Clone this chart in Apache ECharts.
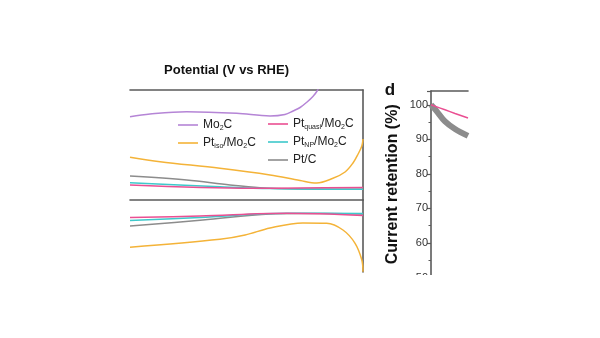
<!DOCTYPE html>
<html>
<head>
<meta charset="utf-8">
<script src="https://cdn.jsdelivr.net/npm/echarts@6/dist/echarts.min.js"></script>
<style>
  html, body { margin: 0; padding: 0; background: #fff; }
  #chart { width: 600px; height: 338px; }
</style>
</head>
<body>
<div id="chart"></div>
<script>
// Polarisation sweeps (upper: anodic branch, lower: cathodic branch), x = normalised potential
const mo2cUpper   = [[0,0.833],[0.086,0.86],[0.243,0.883],[0.458,0.867],[0.601,0.84],[0.665,0.855],[0.70,0.89],[0.73,0.925],[0.76,0.98],[0.785,1.035],[0.803,1.09],[0.815,1.15]];
const ptIsoUpper  = [[0,0.427],[0.129,0.383],[0.386,0.317],[0.601,0.25],[0.73,0.195],[0.801,0.17],[0.871,0.217],[0.923,0.28],[0.957,0.37],[0.979,0.46],[0.995,0.54],[1,0.61]];
const ptCUpper    = [[0,0.24],[0.243,0.20],[0.429,0.15],[0.558,0.123],[0.73,0.11],[1,0.107]];
const ptNpUpper   = [[0,0.173],[0.386,0.133],[0.601,0.115],[1,0.107]];
const ptQuasiUpper= [[0,0.15],[0.528,0.117],[0.73,0.12],[1,0.125]];

const ptQuasiLower= [[0,-0.175],[0.30,-0.16],[0.673,-0.133],[1,-0.155]];
const ptNpLower   = [[0,-0.205],[0.30,-0.175],[0.673,-0.133],[1,-0.135]];
const ptCLower    = [[0,-0.26],[0.313,-0.20],[0.601,-0.14],[0.73,-0.135],[1,-0.14]];
const ptIsoLower  = [[0,-0.473],[0.386,-0.393],[0.494,-0.35],[0.601,-0.28],[0.742,-0.23],[0.844,-0.233],[0.914,-0.30],[0.966,-0.433],[0.995,-0.60],[1,-0.717]];

// Chronoamperometric current retention (%)
const retentionQuasi = [[0,100],[0.378,98.55],[0.649,97.5],[1,96.2]];
const retentionPtC   = [[0,100],[0.135,98.4],[0.378,95.2],[0.649,93.0],[1,91.0]];
const retentionTicks = [50, 60, 70, 80, 90, 100];

const colors = {
  'Mo2C': '#b585d6',
  'Pt_iso/Mo2C': '#f4b338',
  'Pt_quasi/Mo2C': '#ea4f92',
  'Pt_NP/Mo2C': '#3ec9cb',
  'Pt/C': '#8c8c8c'
};
const legendRich = {
  'Mo2C': '{a|Mo}{s|2}{a|C}',
  'Pt_iso/Mo2C': '{a|Pt}{s|iso}{a|/Mo}{s|2}{a|C}',
  'Pt_quasi/Mo2C': '{a|Pt}{s|quasi}{a|/Mo}{s|2}{a|C}',
  'Pt_NP/Mo2C': '{a|Pt}{s|NP}{a|/Mo}{s|2}{a|C}',
  'Pt/C': '{a|Pt/C}'
};

const FONT = '"Liberation Sans", Arial, sans-serif';
const frame = { show: true, onZero: false, lineStyle: { color: '#5a5a5a', width: 1.6 } };

function curve(name, data, idx, width) {
  return {
    name: name, type: 'line', data: data, xAxisIndex: idx, yAxisIndex: idx,
    symbol: 'none', smooth: 0.35, clip: true,
    lineStyle: { color: colors[name], width: width || 1.5 },
    itemStyle: { color: colors[name] }
  };
}

const legendBase = {
  orient: 'vertical', padding: 0, itemWidth: 20, itemHeight: 1.6, itemGap: 5,
  icon: 'rect', selectedMode: false,
  formatter: function (n) { return legendRich[n]; },
  textStyle: {
    rich: {
      a: { fontSize: 12, lineHeight: 14, color: '#222', fontFamily: FONT },
      s: { fontSize: 7, lineHeight: 8, verticalAlign: 'bottom', color: '#222', fontFamily: FONT }
    }
  }
};

const chart = echarts.init(document.getElementById('chart'), null, { renderer: 'canvas' });
chart.setOption({
  animation: false,
  backgroundColor: '#fff',
  textStyle: { fontFamily: FONT },
  grid: [
    { left: 130, width: 233, top: 90, height: 110 },
    { left: 130, width: 233, top: 200, height: 72 },
    { left: 431, width: 37, top: 91, height: 186.5 }
  ],
  xAxis: [
    { gridIndex: 0, type: 'value', min: 0, max: 1, position: 'top', axisLine: frame,
      axisTick: { show: false }, axisLabel: { show: false }, splitLine: { show: false } },
    { gridIndex: 1, type: 'value', min: 0, max: 1, position: 'top', axisLine: frame,
      axisTick: { show: false }, axisLabel: { show: false }, splitLine: { show: false } },
    { gridIndex: 2, type: 'value', min: 0, max: 1, position: 'top', axisLine: frame,
      axisTick: { show: false }, axisLabel: { show: false }, splitLine: { show: false } }
  ],
  yAxis: [
    { gridIndex: 0, type: 'value', min: 0, max: 1.1, position: 'right', axisLine: frame,
      axisTick: { show: false }, axisLabel: { show: false }, splitLine: { show: false } },
    { gridIndex: 1, type: 'value', min: -0.72, max: 0, position: 'right', axisLine: frame,
      axisTick: { show: false }, axisLabel: { show: false }, splitLine: { show: false } },
    { gridIndex: 2, type: 'value', min: 50, max: 104, interval: 10, position: 'left',
      axisLine: frame,
      axisTick: { show: true, inside: false, length: 4, lineStyle: { color: '#5a5a5a', width: 1.2 } },
      minorTick: { show: true, splitNumber: 2, length: 2.5, lineStyle: { color: '#5a5a5a', width: 1 } },
      axisLabel: {
        margin: 3, fontSize: 11, color: '#333',
        formatter: function (v) { return retentionTicks.indexOf(v) >= 0 ? String(v) : ''; }
      },
      splitLine: { show: false },
      name: 'Current retention (%)', nameLocation: 'middle', nameGap: 30,
      nameTextStyle: { fontSize: 16, fontWeight: 'bold', color: '#111' }
    }
  ],
  legend: [
    Object.assign({}, legendBase, { left: 178, top: 119, data: ['Mo2C', 'Pt_iso/Mo2C'] }),
    Object.assign({}, legendBase, { left: 268, top: 118, data: ['Pt_quasi/Mo2C', 'Pt_NP/Mo2C', 'Pt/C'] })
  ],
  series: [
    curve('Mo2C', mo2cUpper, 0),
    curve('Pt/C', ptCUpper, 0),
    curve('Pt_NP/Mo2C', ptNpUpper, 0),
    curve('Pt_quasi/Mo2C', ptQuasiUpper, 0),
    curve('Pt_iso/Mo2C', ptIsoUpper, 0),
    curve('Pt/C', ptCLower, 1),
    curve('Pt_NP/Mo2C', ptNpLower, 1),
    curve('Pt_quasi/Mo2C', ptQuasiLower, 1),
    curve('Pt_iso/Mo2C', ptIsoLower, 1),
    curve('Pt/C', retentionPtC, 2, 6),
    curve('Pt_quasi/Mo2C', retentionQuasi, 2, 1.5)
  ],
  graphic: [
    { type: 'text', x: 226.5, y: 70, z: 10,
      style: { text: 'Potential (V vs RHE)', font: 'bold 13px ' + FONT, fill: '#111',
               align: 'center', verticalAlign: 'middle', textAlign: 'center', textVerticalAlign: 'middle' } },
    { type: 'text', x: 390, y: 90, z: 10,
      style: { text: 'd', font: 'bold 17px ' + FONT, fill: '#111',
               align: 'center', verticalAlign: 'middle', textAlign: 'center', textVerticalAlign: 'middle' } },
    // page edge below the panels
    { type: 'rect', z: 100, shape: { x: 0, y: 275, width: 600, height: 63 }, style: { fill: '#fff' } }
  ]
});
</script>
</body>
</html>
